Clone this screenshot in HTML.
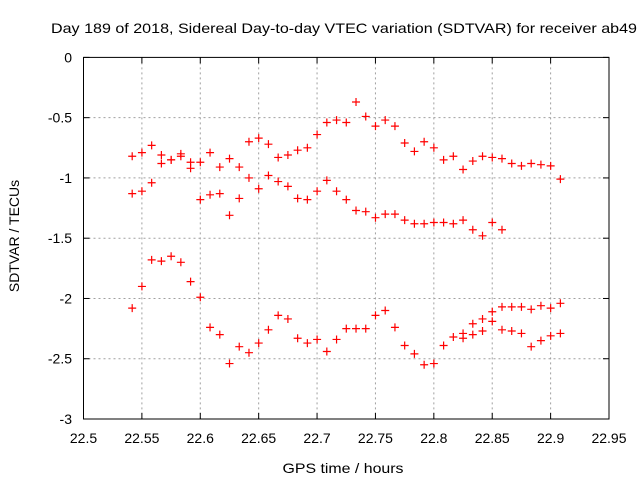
<!DOCTYPE html>
<html><head><meta charset="utf-8"><style>
body{margin:0;background:#fff}
svg{display:block;font-family:"Liberation Sans",sans-serif}
</style></head><body>
<svg id="chart" width="640" height="480" viewBox="0 0 640 480" xmlns="http://www.w3.org/2000/svg">
<rect width="640" height="480" fill="#fff"/>
<text x="344" y="33" text-anchor="middle" font-size="14" textLength="586" lengthAdjust="spacingAndGlyphs" fill="#000">Day 189 of 2018, Sidereal Day-to-day VTEC variation (SDTVAR) for receiver ab49</text>
<text x="343" y="473" text-anchor="middle" font-size="14" textLength="121" lengthAdjust="spacingAndGlyphs" fill="#000">GPS time / hours</text>
<text transform="translate(19,236) rotate(-90)" text-anchor="middle" font-size="14" fill="#000">SDTVAR / TECUs</text>
<g id="grid"></g><g id="axes"></g><g id="marks"></g>
</svg>
<script>
const xTicks=[22.5,22.55,22.6,22.65,22.7,22.75,22.8,22.85,22.9,22.95];
const yTicks=[0,-0.5,-1,-1.5,-2,-2.5,-3];
const xTickLabels=["22.5","22.55","22.6","22.65","22.7","22.75","22.8","22.85","22.9","22.95"];
const yTickLabels=["0","-0.5","-1","-1.5","-2","-2.5","-3"];
const times=[];for(let i=0;i<45;i++)times.push(22.5417+i/120);
const seriesA=[-0.82,-0.79,-0.73,-0.81,-0.85,-0.80,-0.87,-0.87,-0.79,-0.91,-0.84,-0.91,-0.70,-0.67,-0.72,-0.83,-0.81,-0.77,-0.75,-0.64,-0.54,-0.52,-0.54,-0.37,-0.49,-0.57,-0.52,-0.57,-0.71,-0.78,-0.70,-0.75,-0.85,-0.82,-0.93,-0.86,-0.82,-0.83,-0.84,-0.88,-0.90,-0.88,-0.89,-0.90,-1.01];
const seriesB=[-1.13,-1.11,-1.04,-0.88,-0.85,-0.82,-0.92,-1.18,-1.14,-1.13,-1.31,-1.17,-1.00,-1.09,-0.98,-1.03,-1.07,-1.17,-1.18,-1.11,-1.02,-1.11,-1.18,-1.27,-1.28,-1.33,-1.30,-1.30,-1.35,-1.38,-1.38,-1.37,-1.37,-1.38,-1.35,-1.43,-1.48,-1.37,-1.43,null,null,null,null,null,null];
const seriesC=[-2.08,-1.90,-1.68,-1.69,-1.65,-1.70,-1.86,-1.99,-2.24,-2.30,-2.54,-2.40,-2.45,-2.37,-2.26,-2.14,-2.17,-2.33,-2.37,-2.34,-2.44,-2.34,-2.25,-2.25,-2.25,-2.14,-2.10,-2.24,-2.39,-2.46,-2.55,-2.54,-2.39,-2.32,-2.29,-2.21,-2.17,-2.11,-2.07,-2.07,-2.07,-2.09,-2.06,-2.08,-2.04];
const seriesD=[null,null,null,null,null,null,null,null,null,null,null,null,null,null,null,null,null,null,null,null,null,null,null,null,null,null,null,null,null,null,null,null,null,null,-2.33,-2.30,-2.27,-2.19,-2.26,-2.27,-2.29,-2.40,-2.35,-2.31,-2.29];
const L=83.5,R=609,T=57.4,B=419;
const xS=v=>L+(v-22.5)/(0.45)*(R-L);
const yS=v=>T+(0-v)/3*(B-T);
const NS="http://www.w3.org/2000/svg";
function mk(tag,attrs,parent){const e=document.createElementNS(NS,tag);for(const k in attrs)e.setAttribute(k,attrs[k]);parent.appendChild(e);return e;}
const grid=document.getElementById('grid'),axes=document.getElementById('axes'),marks=document.getElementById('marks');
xTicks.forEach((t,i)=>{const x=xS(t);
 if(i>0&&i<xTicks.length-1){const g=mk('line',{x1:x,x2:x,y1:T,y2:B,stroke:'#a0a0a0','stroke-dasharray':'2,3','stroke-width':1},grid);
 
 }
 const a=mk('line',{x1:x,x2:x,y1:B,y2:B-6,stroke:'#000'},axes);
 const b=mk('line',{x1:x,x2:x,y1:T,y2:T+6,stroke:'#000'},axes);
 const tx=mk('text',{x:x,y:443,'text-anchor':'middle','font-size':14,fill:'#000'},axes);tx.textContent=xTickLabels[i];
 
 
});
yTicks.forEach((t,i)=>{const y=yS(t);
 if(i>0&&i<yTicks.length-1){const g=mk('line',{x1:L,x2:R,y1:y,y2:y,stroke:'#a0a0a0','stroke-dasharray':'2,3','stroke-width':1},grid);
 
 }
 const a=mk('line',{x1:L,x2:L+6,y1:y,y2:y,stroke:'#000'},axes);
 const b=mk('line',{x1:R,x2:R-6,y1:y,y2:y,stroke:'#000'},axes);
 const tx=mk('text',{x:72,y:y+5,'text-anchor':'end','font-size':14,fill:'#000'},axes);tx.textContent=yTickLabels[i];
 
 
});
const fr=mk('rect',{x:L,y:T,width:R-L,height:B-T,fill:'none',stroke:'#000','stroke-width':1},axes);


[seriesA,seriesB,seriesC,seriesD].forEach((s,si)=>{s.forEach((v,i)=>{if(v===null)return;
 const x=xS(times[i]),y=yS(v);
 const p=mk('path',{d:`M${x-4},${y}H${x+4}M${x},${y-4}V${y+4}`,stroke:'#f00','stroke-width':1.2,fill:'none'},marks);
 
 
});});
</script>
</body></html>
